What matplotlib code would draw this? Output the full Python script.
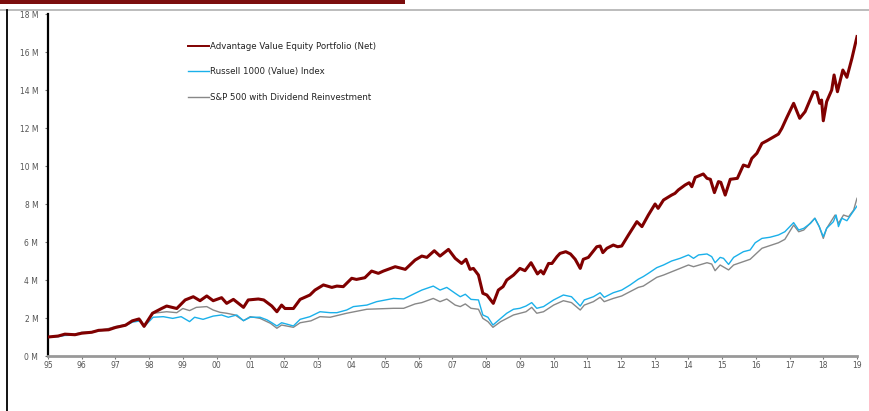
import matplotlib
matplotlib.use("Agg")
import matplotlib.pyplot as plt
from matplotlib.lines import Line2D
from matplotlib.patches import Rectangle

plt.rcParams['font.family'] = ['DejaVu Sans']

# ---- data (decimal years, values in millions) ----
adv_x = [1995.0, 1995.3, 1995.5, 1995.8, 1996.0, 1996.3, 1996.5, 1996.8, 1997.0, 1997.3,
         1997.5, 1997.7, 1997.85, 1998.1, 1998.37, 1998.52, 1998.82, 1999.07, 1999.31, 1999.51,
         1999.71, 1999.9, 2000.15, 2000.3, 2000.5, 2000.8, 2000.94, 2001.24, 2001.4, 2001.64,
         2001.79, 2001.93, 2002.03, 2002.28, 2002.48, 2002.77, 2002.92, 2003.17, 2003.42, 2003.57,
         2003.76, 2004.01, 2004.15, 2004.4, 2004.6, 2004.8, 2004.95, 2005.3, 2005.6, 2005.89,
         2006.09, 2006.24, 2006.46, 2006.63, 2006.88, 2007.08, 2007.27, 2007.4, 2007.52, 2007.62,
         2007.77, 2007.9, 2008.02, 2008.21, 2008.36, 2008.5, 2008.61, 2008.81, 2009.0, 2009.15,
         2009.33, 2009.52, 2009.62, 2009.7, 2009.85, 2009.95, 2010.1, 2010.19, 2010.36, 2010.5,
         2010.64, 2010.79, 2010.88, 2011.03, 2011.28, 2011.38, 2011.46, 2011.58, 2011.77, 2011.9,
         2012.02, 2012.22, 2012.47, 2012.62, 2012.81, 2013.01, 2013.1, 2013.26, 2013.5, 2013.6,
         2013.7, 2013.9, 2014.02, 2014.1, 2014.2, 2014.44, 2014.55, 2014.65, 2014.77, 2014.89,
         2014.96, 2015.09, 2015.24, 2015.45, 2015.63, 2015.78, 2015.88, 2016.03, 2016.18, 2016.33,
         2016.57, 2016.67, 2016.77, 2016.92, 2017.12, 2017.3, 2017.46, 2017.71, 2017.81, 2017.89,
         2017.95, 2018.0, 2018.1, 2018.25, 2018.32, 2018.42, 2018.58, 2018.7, 2018.85, 2019.0]
adv_v = [1.0, 1.05, 1.15, 1.12, 1.2, 1.25, 1.35, 1.38, 1.5, 1.62,
         1.85, 1.95, 1.56, 2.25, 2.5, 2.63, 2.5, 2.95, 3.12, 2.91,
         3.16, 2.91, 3.07, 2.77, 2.98, 2.56, 2.95, 3.0, 2.95, 2.63,
         2.33, 2.68, 2.5, 2.5, 2.98, 3.21, 3.47, 3.74, 3.61, 3.68,
         3.65, 4.09, 4.03, 4.12, 4.47, 4.35, 4.47, 4.7, 4.56, 5.05,
         5.26, 5.19, 5.54, 5.26, 5.61, 5.14, 4.87, 5.09, 4.56, 4.61,
         4.26, 3.3, 3.21, 2.77, 3.47, 3.65, 4.0, 4.26, 4.61, 4.49,
         4.91, 4.32, 4.49, 4.32, 4.87, 4.87, 5.23, 5.4, 5.49, 5.37,
         5.09, 4.61, 5.09, 5.19, 5.75, 5.79, 5.44, 5.67, 5.84, 5.75,
         5.79, 6.37, 7.07, 6.81, 7.42, 8.0, 7.77, 8.21, 8.47, 8.56,
         8.74, 9.0, 9.12, 8.91, 9.4, 9.58, 9.35, 9.3, 8.6, 9.18,
         9.14, 8.47, 9.3, 9.35, 10.05, 9.96, 10.4, 10.67, 11.19, 11.33,
         11.58, 11.68, 11.98, 12.56, 13.3, 12.51, 12.86, 13.91, 13.86, 13.3,
         13.47, 12.38, 13.39, 14.0, 14.79, 13.91, 15.05, 14.67, 15.67, 16.81]

r1000_x = [1995.0, 1995.3, 1995.5, 1995.8, 1996.0, 1996.3, 1996.5, 1996.8, 1997.0, 1997.3,
           1997.5, 1997.75, 1997.85, 1998.12, 1998.42, 1998.7, 1998.95, 1999.2, 1999.35, 1999.6,
           1999.9, 2000.15, 2000.35, 2000.6, 2000.8, 2001.0, 2001.29, 2001.5, 2001.64, 2001.79,
           2001.93, 2002.08, 2002.28, 2002.48, 2002.77, 2003.07, 2003.37, 2003.57, 2003.86, 2004.06,
           2004.46, 2004.75, 2005.25, 2005.55, 2005.89, 2006.09, 2006.43, 2006.63, 2006.83, 2007.08,
           2007.23, 2007.38, 2007.55, 2007.77, 2007.9, 2008.05, 2008.2, 2008.43, 2008.61, 2008.81,
           2009.0, 2009.18, 2009.35, 2009.5, 2009.7, 2010.0, 2010.29, 2010.53, 2010.79, 2010.91,
           2011.18, 2011.38, 2011.5, 2011.77, 2012.02, 2012.27, 2012.51, 2012.66, 2012.81, 2013.06,
           2013.26, 2013.5, 2013.75, 2014.0, 2014.15, 2014.3, 2014.55, 2014.69, 2014.79, 2014.94,
           2015.04, 2015.19, 2015.34, 2015.63, 2015.83, 2015.98, 2016.18, 2016.42, 2016.67, 2016.86,
           2017.12, 2017.27, 2017.42, 2017.62, 2017.75, 2017.88, 2018.0, 2018.1, 2018.3, 2018.38,
           2018.45, 2018.55, 2018.7, 2018.85, 2019.0]
r1000_v = [1.0, 1.02, 1.08, 1.1, 1.2, 1.24, 1.32, 1.38, 1.5, 1.6,
           1.78, 1.85, 1.54, 2.04, 2.07, 1.98, 2.07, 1.81, 2.04, 1.93,
           2.1, 2.16, 2.04, 2.16, 1.86, 2.04, 2.04, 1.9, 1.75, 1.58,
           1.75, 1.68, 1.58, 1.93, 2.07, 2.33, 2.28, 2.28, 2.42, 2.6,
           2.68, 2.86, 3.03, 3.0, 3.3, 3.47, 3.68, 3.47, 3.61, 3.3,
           3.12, 3.25, 2.98, 2.95, 2.16, 2.04, 1.63, 1.98, 2.25, 2.46,
           2.51, 2.63, 2.81, 2.51, 2.6, 2.95, 3.21, 3.12, 2.63, 2.95,
           3.12, 3.33, 3.09, 3.33, 3.47, 3.74, 4.04, 4.18, 4.35, 4.65,
           4.79, 5.0, 5.14, 5.32, 5.14, 5.32, 5.37, 5.23, 4.91, 5.19,
           5.14, 4.82, 5.19, 5.49, 5.58, 5.96, 6.19, 6.25, 6.37, 6.54,
           7.02, 6.63, 6.72, 6.98, 7.25, 6.81, 6.28, 6.72, 7.07, 7.42,
           6.81, 7.25, 7.12, 7.51, 7.89]

sp500_x = [1995.0, 1995.3, 1995.5, 1995.8, 1996.0, 1996.3, 1996.5, 1996.8, 1997.0, 1997.3,
           1997.5, 1997.75, 1997.85, 1998.12, 1998.52, 1998.82, 1999.0, 1999.2, 1999.4, 1999.71,
           1999.9, 2000.1, 2000.3, 2000.55, 2000.8, 2001.0, 2001.29, 2001.6, 2001.79, 2001.93,
           2002.28, 2002.48, 2002.8, 2003.07, 2003.37, 2003.86, 2004.46, 2005.25, 2005.55, 2005.89,
           2006.09, 2006.43, 2006.63, 2006.83, 2007.08, 2007.23, 2007.38, 2007.55, 2007.77, 2007.9,
           2008.05, 2008.2, 2008.43, 2008.81, 2009.18, 2009.35, 2009.5, 2009.7, 2010.0, 2010.29,
           2010.53, 2010.79, 2010.91, 2011.18, 2011.38, 2011.5, 2011.77, 2012.02, 2012.27, 2012.51,
           2012.66, 2013.06, 2013.26, 2013.75, 2014.0, 2014.15, 2014.55, 2014.69, 2014.79, 2014.94,
           2015.19, 2015.34, 2015.83, 2016.18, 2016.67, 2016.86, 2017.12, 2017.27, 2017.42, 2017.75,
           2017.88, 2018.0, 2018.1, 2018.35, 2018.45, 2018.6, 2018.75, 2018.9, 2019.0]
sp500_v = [1.0, 1.04, 1.1, 1.15, 1.25, 1.28, 1.35, 1.45, 1.55, 1.65,
           1.82, 1.9, 1.58, 2.25, 2.33, 2.28, 2.5, 2.39, 2.56, 2.6,
           2.42, 2.3, 2.25, 2.16, 1.86, 2.07, 1.98, 1.72, 1.46, 1.63,
           1.51, 1.75, 1.85, 2.07, 2.04, 2.25, 2.46, 2.51, 2.51, 2.74,
           2.81, 3.03, 2.86, 3.0, 2.68, 2.6, 2.74, 2.51, 2.46, 1.98,
           1.81, 1.51, 1.81, 2.16, 2.33, 2.56, 2.25, 2.33, 2.68, 2.91,
           2.81, 2.42, 2.68, 2.86, 3.09, 2.86, 3.03, 3.16, 3.39, 3.61,
           3.68, 4.14, 4.26, 4.61, 4.79, 4.7, 4.91, 4.84, 4.49, 4.79,
           4.53, 4.79, 5.09, 5.67, 5.96, 6.14, 6.89, 6.54, 6.63, 7.25,
           6.81, 6.19, 6.72, 7.42, 6.98, 7.42, 7.33, 7.68, 8.3]

series_names = ["Advantage Value Equity Portfolio (Net)",
                "Russell 1000 (Value) Index",
                "S&P 500 with Dividend Reinvestment"]
y_ticks = [0, 2, 4, 6, 8, 10, 12, 14, 16, 18]
x_tick_years = list(range(1995, 2020))
x_tick_labels = [f"{y % 100:02d}" for y in x_tick_years]

# ---- figure ----
W, H = 869, 411
fig = plt.figure(figsize=(W / 100, H / 100), dpi=100)
fig.patch.set_facecolor("white")

# decorations
fig.add_artist(Rectangle((0, 1 - 4 / H), 405 / W, 4 / H, transform=fig.transFigure,
                         facecolor="#7b0d0d", edgecolor="none"))
fig.add_artist(Line2D([0, 1], [1 - 10 / H, 1 - 10 / H], transform=fig.transFigure,
                      color="#b0b0b0", lw=1.2))
fig.add_artist(Line2D([7.5 / W, 7.5 / W], [0, 1 - 10 / H], transform=fig.transFigure,
                      color="black", lw=1.3))

ax = fig.add_axes([48 / W, 1 - 356 / H, (857 - 48) / W, (356 - 14) / H])
ax.set_facecolor("white")

red = "#800000"
blue = "#1ab0ea"
gray = "#888888"

ax.plot(r1000_x, r1000_v, color=blue, lw=1.0, label=series_names[1], zorder=3)
ax.plot(sp500_x, sp500_v, color=gray, lw=1.0, label=series_names[2], zorder=2)
ax.plot(adv_x, adv_v, color=red, lw=2.2, label=series_names[0], zorder=4)

ax.set_xlim(1995, 2019)
ax.set_ylim(0, 18)
ax.set_yticks(y_ticks)
ax.set_yticklabels([f"{v} M" for v in y_ticks])
ax.set_xticks(x_tick_years)
ax.set_xticklabels(x_tick_labels)

for s in ["top", "right"]:
    ax.spines[s].set_visible(False)
ax.spines["left"].set_color("black")
ax.spines["left"].set_linewidth(1.6)
ax.spines["bottom"].set_color("#999999")
ax.spines["bottom"].set_linewidth(2.0)

ax.tick_params(axis="y", direction="out", length=2, width=0.8, colors="#777777",
               labelsize=5.5, labelcolor="#555555", pad=5)
ax.tick_params(axis="x", direction="out", length=2, width=0.8, colors="#777777",
               labelsize=5.5, labelcolor="#555555", pad=1.5)

handles = [Line2D([], [], color=red, lw=1.4),
           Line2D([], [], color=blue, lw=1.0),
           Line2D([], [], color=gray, lw=1.0)]
leg = ax.legend(handles, series_names, loc="upper left",
                bbox_to_anchor=(188 / W, 1 - 42 / H), bbox_transform=fig.transFigure,
                frameon=False, fontsize=6.2, handlelength=2.45, handletextpad=0.1,
                labelspacing=1.9, borderaxespad=0, borderpad=0)
for t in leg.get_texts():
    t.set_color("#222222")

fig.savefig("out.png", dpi=100, facecolor="white")
